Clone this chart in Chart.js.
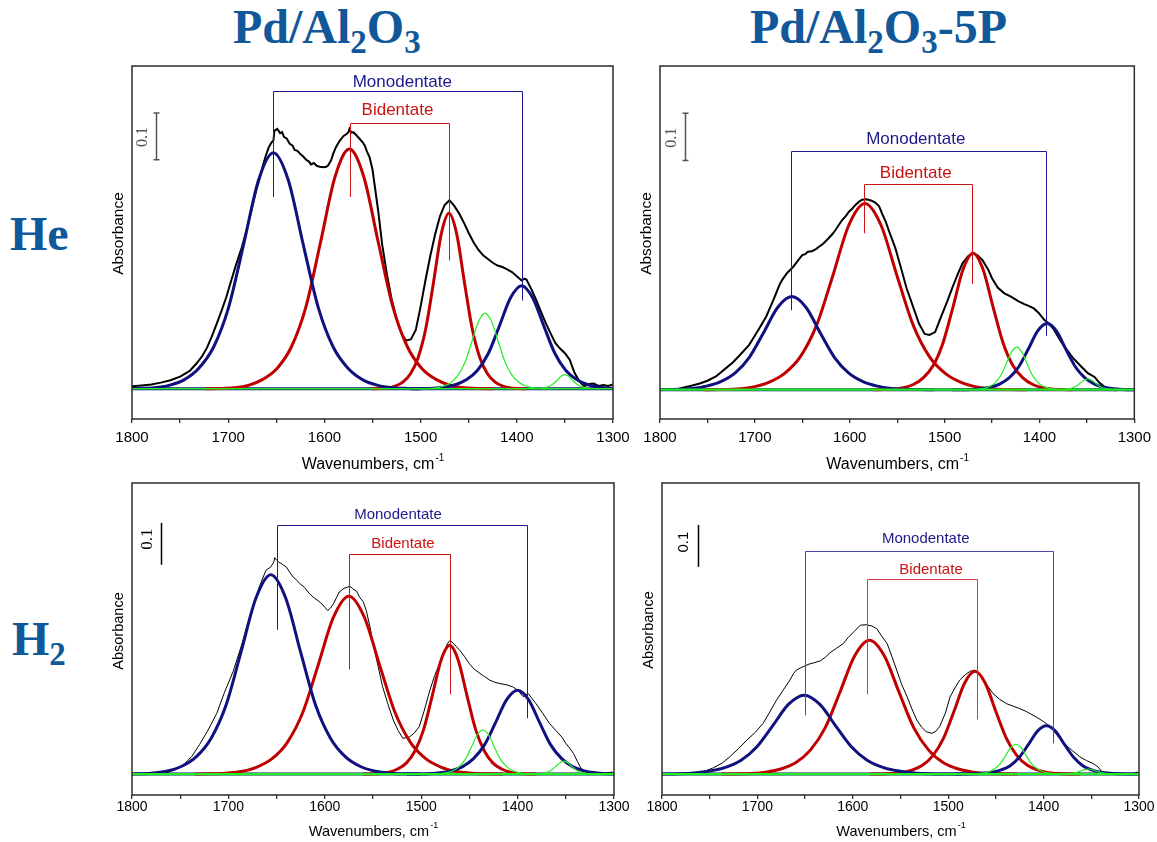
<!DOCTYPE html>
<html>
<head>
<meta charset="utf-8">
<script src="https://cdn.jsdelivr.net/npm/chart.js@4.4.1/dist/chart.umd.min.js"></script>
<style>
  html, body { margin: 0; padding: 0; background: #fff; }
  body { width: 1157px; height: 842px; position: relative; overflow: hidden; }
  canvas { position: absolute; }
  .big {
    position: absolute; white-space: nowrap; color: #11589b;
    font-family: "Liberation Serif", "Times New Roman", serif;
    font-weight: bold; font-size: 48px; line-height: 48px;
  }
  .big sub { font-size: 33px; vertical-align: -10px; line-height: 0; }
</style>
</head>
<body>
<div class="big" style="left:233px;top:3px">Pd/Al<sub>2</sub>O<sub>3</sub></div>
<div class="big" style="left:750px;top:3px">Pd/Al<sub>2</sub>O<sub>3</sub>-5P</div>
<div class="big" style="left:10px;top:210px">He</div>
<div class="big" style="left:12px;top:615px">H<sub>2</sub></div>

<canvas id="c1" width="546" height="433" style="left:92px;top:46px"></canvas>
<canvas id="c2" width="537" height="433" style="left:620px;top:46px"></canvas>
<canvas id="c3" width="547" height="382" style="left:92px;top:463px"></canvas>
<canvas id="c4" width="535" height="382" style="left:622px;top:463px"></canvas>

<script>
// x axis: wavenumbers, cm-1 (reversed)
const xTicks = [1800, 1700, 1600, 1500, 1400, 1300];
const zeroLine = [[1800, 0], [1300, 0]];

// ---- Pd/Al2O3, He ----
const p1Black = [[1800,0.005],[1790,0.007],[1780,0.009],[1770,0.013],[1760,0.018],[1750,0.026],[1740,0.038],[1733,0.054],[1727,0.070],[1722,0.088],[1717,0.112],[1712,0.139],[1707,0.167],[1702,0.196],[1697,0.231],[1692,0.265],[1686,0.302],[1681,0.339],[1676,0.381],[1671,0.425],[1667,0.453],[1664,0.478],[1661,0.499],[1658,0.517],[1655,0.528],[1653,0.532],[1652,0.553],[1649,0.557],[1646,0.548],[1644,0.550],[1642,0.540],[1639,0.536],[1636,0.525],[1633,0.521],[1631,0.512],[1628,0.510],[1625,0.503],[1622,0.498],[1619,0.491],[1616,0.487],[1614,0.481],[1611,0.484],[1608,0.478],[1605,0.476],[1601,0.475],[1598,0.476],[1596,0.479],[1593,0.490],[1591,0.503],[1588,0.518],[1584,0.532],[1580,0.542],[1577,0.546],[1575,0.550],[1574,0.557],[1572,0.549],[1570,0.550],[1567,0.544],[1563,0.535],[1560,0.528],[1558,0.521],[1556,0.510],[1553,0.496],[1550,0.470],[1548,0.440],[1544,0.380],[1540,0.310],[1535,0.245],[1530,0.191],[1525,0.150],[1520,0.119],[1515,0.103],[1510,0.106],[1505,0.126],[1500,0.176],[1495,0.232],[1490,0.284],[1485,0.330],[1480,0.369],[1475,0.394],[1470,0.404],[1465,0.392],[1460,0.376],[1455,0.356],[1450,0.334],[1445,0.314],[1440,0.298],[1435,0.286],[1430,0.278],[1425,0.270],[1420,0.264],[1415,0.261],[1410,0.256],[1405,0.250],[1400,0.241],[1395,0.232],[1392,0.236],[1390,0.234],[1385,0.214],[1380,0.191],[1375,0.166],[1370,0.141],[1365,0.119],[1360,0.098],[1355,0.086],[1350,0.076],[1345,0.062],[1340,0.034],[1335,0.016],[1330,0.005],[1325,0.010],[1320,0.011],[1315,0.006],[1310,0.008],[1305,0.006],[1300,0.009]];
const p1Blue1 = [[1498,0],[1513.5,0.0005],[1529,0.002],[1544.5,0.0071],[1560,0.019],[1575.5,0.044],[1591,0.09],[1606.5,0.175],[1622,0.309],[1637.5,0.447],[1653,0.506],[1668.5,0.447],[1684,0.309],[1699.5,0.175],[1715,0.09],[1730.5,0.044],[1746,0.019],[1761.5,0.0071],[1777,0.002],[1792.5,0.0005],[1808,0]];
const p1Red1 = [[1424,0],[1439,0.0005],[1454,0.0021],[1469,0.0072],[1484,0.02],[1499,0.044],[1514,0.091],[1529,0.177],[1544,0.314],[1559,0.454],[1574,0.514],[1589,0.454],[1604,0.314],[1619,0.177],[1634,0.091],[1649,0.044],[1664,0.02],[1679,0.0072],[1694,0.0021],[1709,0.0005],[1724,0]];
const p1Red2 = [[1390.5,0],[1398.5,0.0004],[1406.5,0.0015],[1414.5,0.0053],[1422.5,0.014],[1430.5,0.032],[1438.5,0.067],[1446.5,0.13],[1454.5,0.229],[1462.5,0.332],[1470.5,0.376],[1478.5,0.332],[1486.5,0.229],[1494.5,0.13],[1502.5,0.067],[1510.5,0.032],[1518.5,0.014],[1526.5,0.0053],[1534.5,0.0015],[1542.5,0.0004],[1550.5,0]];
const p1Blue2 = [[1280,0],[1291.5,0.0002],[1303,0.0009],[1314.5,0.0031],[1326,0.0084],[1337.5,0.019],[1349,0.039],[1360.5,0.076],[1372,0.135],[1383.5,0.195],[1395,0.221],[1406.5,0.195],[1418,0.135],[1429.5,0.076],[1441,0.039],[1452.5,0.019],[1464,0.0084],[1475.5,0.0031],[1487,0.0009],[1498.5,0.0002],[1510,0]];
const p1Green1 = [[1363,0],[1370,0.0002],[1377,0.0006],[1384,0.0023],[1391,0.0062],[1398,0.014],[1405,0.029],[1412,0.056],[1419,0.099],[1426,0.143],[1433,0.162],[1440,0.143],[1447,0.099],[1454,0.056],[1461,0.029],[1468,0.014],[1475,0.0062],[1482,0.0023],[1489,0.0006],[1496,0.0002],[1503,0]];
const p1Green2 = [[1314,0],[1318,0.0001],[1322,0.0004],[1326,0.0011],[1330,0.0026],[1334,0.0053],[1338,0.0104],[1342,0.0183],[1346,0.0265],[1350,0.03],[1354,0.0265],[1358,0.0183],[1362,0.0104],[1366,0.0053],[1370,0.0026],[1374,0.0011],[1378,0.0004],[1382,0.0001],[1386,0]];

// ---- Pd/Al2O3-5P, He ----
const p2Black = [[1800,0],[1790,0.001],[1780,0.002],[1776,0.004],[1768,0.008],[1758,0.013],[1750,0.019],[1741,0.028],[1732,0.043],[1723,0.058],[1715,0.075],[1706,0.095],[1697,0.124],[1688,0.155],[1680,0.192],[1674,0.222],[1671,0.233],[1666,0.247],[1660,0.259],[1655,0.272],[1652,0.280],[1650,0.285],[1647,0.287],[1644,0.292],[1640,0.293],[1636,0.297],[1632,0.303],[1628,0.309],[1622,0.321],[1618,0.330],[1615,0.338],[1611,0.350],[1608,0.359],[1604,0.368],[1601,0.376],[1597,0.384],[1594,0.391],[1590,0.398],[1587,0.402],[1582,0.403],[1577,0.400],[1573,0.396],[1569,0.388],[1566,0.373],[1562,0.355],[1559,0.338],[1552,0.300],[1546,0.258],[1540,0.214],[1534,0.180],[1527,0.140],[1521,0.118],[1516,0.116],[1510,0.122],[1503,0.158],[1497,0.188],[1492,0.215],[1486,0.245],[1481,0.268],[1475,0.283],[1470,0.289],[1465,0.284],[1460,0.274],[1454,0.254],[1450,0.236],[1444,0.216],[1437,0.204],[1430,0.197],[1422,0.187],[1416,0.181],[1412,0.178],[1406,0.172],[1401,0.163],[1395,0.148],[1390,0.140],[1385,0.128],[1378,0.104],[1374,0.092],[1365,0.068],[1356,0.049],[1349,0.035],[1342,0.027],[1337,0.015],[1332,0.007],[1325,0.001],[1320,-0.001],[1315,0],[1310,0.001],[1300,0]];
const p2Blue1 = [[1511,0],[1526,0.0002],[1541,0.0008],[1556,0.0028],[1571,0.0075],[1586,0.017],[1601,0.035],[1616,0.068],[1631,0.12],[1646,0.174],[1661,0.197],[1676,0.174],[1691,0.12],[1706,0.068],[1721,0.035],[1736,0.017],[1751,0.0075],[1766,0.0028],[1781,0.0008],[1796,0.0002],[1811,0]];
const p2Red1 = [[1414,0],[1431,0.0004],[1448,0.0016],[1465,0.0055],[1482,0.015],[1499,0.034],[1516,0.07],[1533,0.136],[1550,0.24],[1567,0.348],[1584,0.394],[1601,0.348],[1618,0.24],[1635,0.136],[1652,0.07],[1669,0.034],[1686,0.015],[1703,0.0055],[1720,0.0016],[1737,0.0004],[1754,0]];
const p2Red2 = [[1365,0],[1375.5,0.0003],[1386,0.0012],[1396.5,0.004],[1407,0.011],[1417.5,0.025],[1428,0.051],[1438.5,0.1],[1449,0.176],[1459.5,0.255],[1470,0.289],[1480.5,0.255],[1491,0.176],[1501.5,0.1],[1512,0.051],[1522.5,0.025],[1533,0.011],[1543.5,0.004],[1554,0.0012],[1564.5,0.0003],[1575,0]];
const p2Blue2 = [[1292,0],[1302,0.0001],[1312,0.0006],[1322,0.002],[1332,0.0053],[1342,0.012],[1352,0.025],[1362,0.048],[1372,0.085],[1382,0.124],[1392,0.14],[1402,0.124],[1412,0.085],[1422,0.048],[1432,0.025],[1442,0.012],[1452,0.0053],[1462,0.002],[1472,0.0006],[1482,0.0001],[1492,0]];
const p2Green1 = [[1369,0],[1374.5,0.0001],[1380,0.0004],[1385.5,0.0013],[1391,0.0034],[1396.5,0.0077],[1402,0.016],[1407.5,0.031],[1413,0.055],[1418.5,0.079],[1424,0.09],[1429.5,0.079],[1435,0.055],[1440.5,0.031],[1446,0.016],[1451.5,0.0077],[1457,0.0034],[1462.5,0.0013],[1468,0.0004],[1473.5,0.0001],[1479,0]];
const p2Green2 = [[1313,0],[1317,0.0001],[1321,0.0003],[1325,0.0009],[1329,0.002],[1333,0.0041],[1337,0.0079],[1341,0.014],[1345,0.02],[1349,0.023],[1353,0.02],[1357,0.014],[1361,0.0079],[1365,0.0041],[1369,0.002],[1373,0.0009],[1377,0.0003],[1381,0.0001],[1385,0]];

// ---- Pd/Al2O3, H2 ----
const p3Black = [[1800,0],[1790,0],[1780,0],[1770,0.001],[1764,0.003],[1755,0.010],[1747,0.021],[1738,0.042],[1730,0.070],[1721,0.105],[1712,0.145],[1704,0.195],[1695,0.245],[1686,0.310],[1678,0.375],[1672,0.415],[1668,0.446],[1661,0.486],[1656,0.494],[1653,0.505],[1652,0.516],[1650,0.510],[1648,0.506],[1644,0.500],[1640,0.494],[1636,0.480],[1633,0.470],[1629,0.462],[1626,0.454],[1621,0.445],[1616,0.430],[1611,0.420],[1605,0.410],[1600,0.398],[1597,0.390],[1594,0.396],[1591,0.406],[1588,0.420],[1585,0.434],[1580,0.443],[1576,0.446],[1574,0.448],[1571,0.442],[1567,0.436],[1564,0.422],[1560,0.410],[1557,0.390],[1553,0.350],[1550,0.311],[1545,0.260],[1540,0.208],[1535,0.170],[1529,0.129],[1524,0.104],[1519,0.085],[1515,0.087],[1512,0.089],[1507,0.098],[1502,0.113],[1497,0.150],[1491,0.200],[1486,0.235],[1481,0.263],[1476,0.292],[1473,0.310],[1470,0.319],[1466,0.310],[1460,0.295],[1455,0.280],[1450,0.263],[1445,0.250],[1439,0.240],[1434,0.232],[1429,0.224],[1424,0.219],[1419,0.216],[1412,0.213],[1405,0.208],[1400,0.200],[1394,0.184],[1391,0.190],[1389,0.192],[1385,0.180],[1381,0.168],[1374,0.145],[1367,0.121],[1360,0.103],[1354,0.088],[1350,0.073],[1346,0.062],[1342,0.049],[1338,0.030],[1334,0.013],[1330,0.006],[1325,0.002],[1315,0],[1305,0.003],[1302,0.005],[1300,0]];
const p3Blue1 = [[1501,0],[1516.5,0.0005],[1532,0.0019],[1547.5,0.0067],[1563,0.018],[1578.5,0.041],[1594,0.085],[1609.5,0.164],[1625,0.29],[1640.5,0.419],[1656,0.475],[1671.5,0.419],[1687,0.29],[1702.5,0.164],[1718,0.085],[1733.5,0.041],[1749,0.018],[1764.5,0.0067],[1780,0.0019],[1795.5,0.0005],[1811,0]];
const p3Red1 = [[1415,0],[1431,0.0004],[1447,0.0017],[1463,0.0059],[1479,0.016],[1495,0.036],[1511,0.075],[1527,0.146],[1543,0.259],[1559,0.374],[1575,0.424],[1591,0.374],[1607,0.259],[1623,0.146],[1639,0.075],[1655,0.036],[1671,0.016],[1687,0.0059],[1703,0.0017],[1719,0.0004],[1735,0]];
const p3Red2 = [[1380.5,0],[1389.5,0.0003],[1398.5,0.0012],[1407.5,0.0043],[1416.5,0.012],[1425.5,0.026],[1434.5,0.055],[1443.5,0.106],[1452.5,0.187],[1461.5,0.271],[1470.5,0.307],[1479.5,0.271],[1488.5,0.187],[1497.5,0.106],[1506.5,0.055],[1515.5,0.026],[1524.5,0.012],[1533.5,0.0043],[1542.5,0.0012],[1551.5,0.0003],[1560.5,0]];
const p3Blue2 = [[1285,0],[1296.5,0.0002],[1308,0.0008],[1319.5,0.0028],[1331,0.0076],[1342.5,0.017],[1354,0.036],[1365.5,0.069],[1377,0.122],[1388.5,0.177],[1400,0.2],[1411.5,0.177],[1423,0.122],[1434.5,0.069],[1446,0.036],[1457.5,0.017],[1469,0.0076],[1480.5,0.0028],[1492,0.0008],[1503.5,0.0002],[1515,0]];
const p3Green1 = [[1376,0],[1382,0.0001],[1388,0.0004],[1394,0.0015],[1400,0.004],[1406,0.009],[1412,0.019],[1418,0.036],[1424,0.064],[1430,0.093],[1436,0.105],[1442,0.093],[1448,0.064],[1454,0.036],[1460,0.019],[1466,0.009],[1472,0.004],[1478,0.0015],[1484,0.0004],[1490,0.0001],[1496,0]];
const p3Green2 = [[1316,0],[1320,0.0001],[1324,0.0004],[1328,0.0012],[1332,0.0027],[1336,0.0055],[1340,0.0107],[1344,0.019],[1348,0.027],[1352,0.031],[1356,0.027],[1360,0.019],[1364,0.0107],[1368,0.0055],[1372,0.0027],[1376,0.0012],[1380,0.0004],[1384,0.0001],[1388,0]];

// ---- Pd/Al2O3-5P, H2 ----
const p4Black = [[1800,0],[1790,0],[1781,0],[1772,0.001],[1764,0.002],[1755,0.007],[1746,0.015],[1737,0.026],[1729,0.041],[1720,0.060],[1711,0.081],[1702,0.100],[1694,0.121],[1687,0.148],[1680,0.176],[1673,0.200],[1666,0.224],[1662,0.240],[1659,0.248],[1655,0.253],[1652,0.256],[1646,0.262],[1641,0.265],[1634,0.270],[1629,0.278],[1624,0.289],[1617,0.300],[1610,0.311],[1605,0.325],[1599,0.339],[1592,0.355],[1586,0.356],[1580,0.353],[1575,0.347],[1570,0.330],[1564,0.311],[1559,0.280],[1554,0.248],[1549,0.215],[1543,0.184],[1538,0.155],[1533,0.129],[1528,0.112],[1523,0.101],[1517,0.097],[1513,0.102],[1509,0.113],[1503,0.145],[1498,0.184],[1493,0.205],[1488,0.224],[1482,0.237],[1477,0.245],[1472,0.248],[1468,0.238],[1463,0.224],[1458,0.208],[1453,0.192],[1446,0.178],[1439,0.168],[1432,0.162],[1425,0.156],[1418,0.149],[1414,0.144],[1407,0.135],[1400,0.125],[1395,0.116],[1390,0.105],[1385,0.090],[1379,0.073],[1370,0.056],[1362,0.041],[1355,0.032],[1348,0.025],[1343,0.017],[1339,0.006],[1335,0.002],[1330,0],[1310,0],[1305,0.002],[1302,0.005],[1300,0]];
const p4Blue1 = [[1486,0],[1502.5,0.0002],[1519,0.0008],[1535.5,0.0026],[1552,0.0071],[1568.5,0.016],[1585,0.033],[1601.5,0.065],[1618,0.115],[1634.5,0.166],[1651,0.188],[1667.5,0.166],[1684,0.115],[1700.5,0.065],[1717,0.033],[1733.5,0.016],[1750,0.0071],[1766.5,0.0026],[1783,0.0008],[1799.5,0.0002],[1816,0]];
const p4Red1 = [[1427.5,0],[1443,0.0003],[1458.5,0.0013],[1474,0.0045],[1489.5,0.012],[1505,0.027],[1520.5,0.057],[1536,0.11],[1551.5,0.195],[1567,0.282],[1582.5,0.319],[1598,0.282],[1613.5,0.195],[1629,0.11],[1644.5,0.057],[1660,0.027],[1675.5,0.012],[1691,0.0045],[1706.5,0.0013],[1722,0.0003],[1737.5,0]];
const p4Red2 = [[1362,0],[1373,0.0002],[1384,0.001],[1395,0.0034],[1406,0.0093],[1417,0.021],[1428,0.044],[1439,0.085],[1450,0.149],[1461,0.216],[1472,0.245],[1483,0.216],[1494,0.149],[1505,0.085],[1516,0.044],[1527,0.021],[1538,0.0093],[1549,0.0034],[1560,0.001],[1571,0.0002],[1582,0]];
const p4Blue2 = [[1302,0],[1311.5,0.0001],[1321,0.0005],[1330.5,0.0016],[1340,0.0044],[1349.5,0.0099],[1359,0.02],[1368.5,0.04],[1378,0.07],[1387.5,0.102],[1397,0.115],[1406.5,0.102],[1416,0.07],[1425.5,0.04],[1435,0.02],[1444.5,0.0099],[1454,0.0044],[1463.5,0.0016],[1473,0.0005],[1482.5,0.0001],[1492,0]];
const p4Green1 = [[1374,0],[1379.5,0.0001],[1385,0.0003],[1390.5,0.001],[1396,0.0027],[1401.5,0.0061],[1407,0.013],[1412.5,0.024],[1418,0.043],[1423.5,0.063],[1429,0.071],[1434.5,0.063],[1440,0.043],[1445.5,0.024],[1451,0.013],[1456.5,0.0061],[1462,0.0027],[1467.5,0.001],[1473,0.0003],[1478.5,0.0001],[1484,0]];
const p4Green2 = [[1321,0],[1325,0.0002],[1329,0.0005],[1333,0.001],[1337,0.0021],[1341,0.0041],[1345,0.0073],[1349,0.0106],[1353,0.012],[1357,0.0106],[1361,0.0073],[1365,0.0041],[1369,0.0021],[1373,0.001],[1377,0.0005],[1381,0.0002],[1385,0]];

const NAVY = '#10107f';
const RED = '#c00000';
const GREEN = '#22ee22';
const SANS = '"Liberation Sans", Arial, sans-serif';
const SERIF = '"Liberation Serif", "Times New Roman", serif';

// frame, brackets, scale bar and axis titles
const decor = {
  id: 'decor',
  afterDatasetsDraw(chart, args, o) {
    const { ctx, chartArea: a, scales: { x, y } } = chart;
    const px = v => x.getPixelForValue(v);
    const py = v => y.getPixelForValue(v);
    ctx.save();

    ctx.strokeStyle = '#2b2b2b';
    ctx.lineWidth = 1.5;
    ctx.strokeRect(a.left, a.top, a.right - a.left, a.bottom - a.top);

    [o.mono, o.bid].forEach(b => {
      const x1 = Math.round(px(b.x1)) + 0.5;
      const x2 = Math.round(px(b.x2)) + 0.5;
      const yt = Math.round(py(b.y)) + 0.5;
      ctx.strokeStyle = b.line;
      ctx.lineWidth = 1;
      ctx.beginPath();
      ctx.moveTo(x1, py(b.y1));
      ctx.lineTo(x1, yt);
      ctx.lineTo(x2, yt);
      ctx.lineTo(x2, py(b.y2));
      ctx.stroke();
      ctx.fillStyle = b.color;
      ctx.font = o.annFont;
      ctx.textAlign = 'center';
      ctx.textBaseline = 'middle';
      ctx.fillText(b.text, px(b.tx), py(b.ty));
    });

    const s = o.bar;
    const bx = Math.round(px(s.x)) + 0.5;
    const b0 = py(s.y), b1 = py(s.y + 0.1);
    ctx.strokeStyle = s.color;
    ctx.lineWidth = 1.5;
    ctx.beginPath();
    ctx.moveTo(bx, b0);
    ctx.lineTo(bx, b1);
    if (s.caps) {
      ctx.moveTo(bx - 3, b0); ctx.lineTo(bx + 3, b0);
      ctx.moveTo(bx - 3, b1); ctx.lineTo(bx + 3, b1);
    }
    ctx.stroke();
    ctx.save();
    ctx.translate(px(s.lx), py(s.ly));
    ctx.rotate(-Math.PI / 2);
    ctx.fillStyle = s.color;
    ctx.font = s.font;
    ctx.textAlign = 'center';
    ctx.textBaseline = 'middle';
    ctx.fillText('0.1', 0, 0);
    ctx.restore();

    // x title with superscript
    const mainFont = `${o.titleSize}px ${SANS}`;
    const supFont = `${Math.round(o.titleSize * 0.62)}px ${SANS}`;
    ctx.fillStyle = '#000';
    ctx.textAlign = 'left';
    ctx.textBaseline = 'middle';
    ctx.font = mainFont;
    const wMain = ctx.measureText('Wavenumbers, cm').width;
    ctx.font = supFont;
    const wSup = ctx.measureText('-1').width;
    const sx = (a.left + a.right) / 2 - (wMain + wSup) / 2;
    const ty = a.bottom + o.xTitleOff;
    ctx.font = mainFont;
    ctx.fillText('Wavenumbers, cm', sx, ty);
    ctx.font = supFont;
    ctx.fillText('-1', sx + wMain + 1, ty - o.titleSize * 0.42);

    ctx.save();
    ctx.translate(a.left - 13, (a.top + a.bottom) / 2 + o.yTitleShift);
    ctx.rotate(-Math.PI / 2);
    ctx.font = `${o.yTitleSize}px ${SANS}`;
    ctx.textAlign = 'center';
    ctx.fillText('Absorbance', 0, 0);
    ctx.restore();

    ctx.restore();
  }
};

function line(data, color, width, smooth, order) {
  return {
    data: data.map(([x, y]) => ({ x, y })),
    borderColor: color,
    borderWidth: width,
    pointRadius: 0,
    fill: false,
    order,
    tension: 0,
    cubicInterpolationMode: smooth ? 'monotone' : 'default'
  };
}

function makePanel(p) {
  const datasets = [
    line(zeroLine, GREEN, p.zeroWidth, false, 1),
    line(p.green1, GREEN, 1.2, true, 2),
    line(p.green2, GREEN, 1.2, true, 2),
    line(p.blue1, NAVY, 3, true, 3),
    line(p.blue2, NAVY, 3, true, 3),
    line(p.red1, RED, 3, true, 3),
    line(p.red2, RED, 3, true, 3),
    line(p.black, '#000', p.blackWidth, false, 4),
    line(zeroLine, NAVY, 3, false, 5)
  ];

  new Chart(document.getElementById(p.id), {
    type: 'line',
    data: { datasets },
    options: {
      responsive: false,
      animation: false,
      devicePixelRatio: 1,
      layout: { padding: { left: 40, right: p.padR, top: 20, bottom: 0 } },
      plugins: {
        legend: { display: false },
        tooltip: { enabled: false },
        decor: p.decor
      },
      scales: {
        x: {
          type: 'linear',
          reverse: true,
          min: 1300,
          max: 1800,
          afterFit: s => { s.height = p.axisH; },
          border: { display: false },
          grid: { drawOnChartArea: false, drawTicks: true, tickLength: 4, color: '#2b2b2b', lineWidth: 1.3 },
          ticks: {
            stepSize: 50,
            autoSkip: false,
            maxRotation: 0,
            padding: p.tickPad,
            color: '#000',
            font: { family: SANS, size: p.tickSize },
            callback: v => xTicks.includes(v) ? String(v) : ''
          }
        },
        y: { display: false, min: p.yMin, max: p.yMax }
      }
    },
    plugins: [decor]
  });
}

const monoLine = '#1c1c90', bidLine = '#cc1414';

makePanel({
  id: 'c1', padR: 25, axisH: 60, yMin: -0.065, yMax: 0.692, tickPad: 6, tickSize: 15, blackWidth: 2, zeroWidth: 1.5,
  black: p1Black, blue1: p1Blue1, blue2: p1Blue2, red1: p1Red1, red2: p1Red2, green1: p1Green1, green2: p1Green2,
  decor: {
    annFont: `17px ${SANS}`, titleSize: 16, yTitleSize: 15.5, xTitleOff: 46, yTitleShift: -9,
    mono: { text: 'Monodentate', line: monoLine, color: '#1a1a8a', x1: 1653.4, x2: 1394.2, y: 0.639, y1: 0.411, y2: 0.189, tx: 1519, ty: 0.657 },
    bid: { text: 'Bidentate', line: bidLine, color: '#cc1111', x1: 1573.7, x2: 1470.5, y: 0.569, y1: 0.411, y2: 0.275, tx: 1524, ty: 0.596 },
    bar: { x: 1774.7, y: 0.491, caps: true, color: '#555', lx: 1788.6, ly: 0.54, font: `16px ${SERIF}` }
  }
});

makePanel({
  id: 'c2', padR: 20, axisH: 60, yMin: -0.062, yMax: 0.685, tickPad: 6, tickSize: 15, blackWidth: 2, zeroWidth: 2.2,
  black: p2Black, blue1: p2Blue1, blue2: p2Blue2, red1: p2Red1, red2: p2Red2, green1: p2Green1, green2: p2Green2,
  decor: {
    annFont: `17px ${SANS}`, titleSize: 16, yTitleSize: 15.5, xTitleOff: 46, yTitleShift: -9,
    mono: { text: 'Monodentate', line: monoLine, color: '#1a1a8a', x1: 1661.5, x2: 1392.7, y: 0.505, y1: 0.168, y2: 0.114, tx: 1530.4, ty: 0.529 },
    bid: { text: 'Bidentate', line: bidLine, color: '#cc1111', x1: 1585, x2: 1471, y: 0.436, y1: 0.331, y2: 0.224, tx: 1530.4, ty: 0.457 },
    bar: { x: 1774.1, y: 0.485, caps: true, color: '#555', lx: 1788, ly: 0.533, font: `16px ${SERIF}` }
  }
});

makePanel({
  id: 'c3', padR: 25, axisH: 50, yMin: -0.05, yMax: 0.694, tickPad: 0, tickSize: 14, blackWidth: 1, zeroWidth: 2.2,
  black: p3Black, blue1: p3Blue1, blue2: p3Blue2, red1: p3Red1, red2: p3Red2, green1: p3Green1, green2: p3Green2,
  decor: {
    annFont: `15px ${SANS}`, titleSize: 14.5, yTitleSize: 14.5, xTitleOff: 37, yTitleShift: -8,
    mono: { text: 'Monodentate', line: monoLine, color: '#1a1a8a', x1: 1649.6, x2: 1390.3, y: 0.595, y1: 0.344, y2: 0.133, tx: 1524.1, ty: 0.619 },
    bid: { text: 'Bidentate', line: bidLine, color: '#cc1111', x1: 1574.9, x2: 1470.5, y: 0.525, y1: 0.25, y2: 0.19, tx: 1518.9, ty: 0.549 },
    bar: { x: 1769.6, y: 0.499, caps: false, color: '#000', lx: 1783.4, ly: 0.56, font: `17px ${SERIF}` }
  }
});

makePanel({
  id: 'c4', padR: 18, axisH: 50, yMin: -0.05, yMax: 0.694, tickPad: 0, tickSize: 14, blackWidth: 1, zeroWidth: 2.2,
  black: p4Black, blue1: p4Blue1, blue2: p4Blue2, red1: p4Red1, red2: p4Red2, green1: p4Green1, green2: p4Green2,
  decor: {
    annFont: `15px ${SANS}`, titleSize: 14.5, yTitleSize: 14.5, xTitleOff: 37, yTitleShift: -9,
    mono: { text: 'Monodentate', line: '#4848b0', color: '#1a1a8a', x1: 1649.8, x2: 1390.5, y: 0.533, y1: 0.14, y2: 0.073, tx: 1523.6, ty: 0.561 },
    bid: { text: 'Bidentate', line: '#d03a3a', color: '#cc1111', x1: 1584.8, x2: 1470.2, y: 0.464, y1: 0.19, y2: 0.13, tx: 1518, ty: 0.486 },
    bar: { x: 1762.6, y: 0.494, caps: false, color: '#000', lx: 1777.6, ly: 0.553, font: `15px ${SANS}` }
  }
});
</script>
</body>
</html>
